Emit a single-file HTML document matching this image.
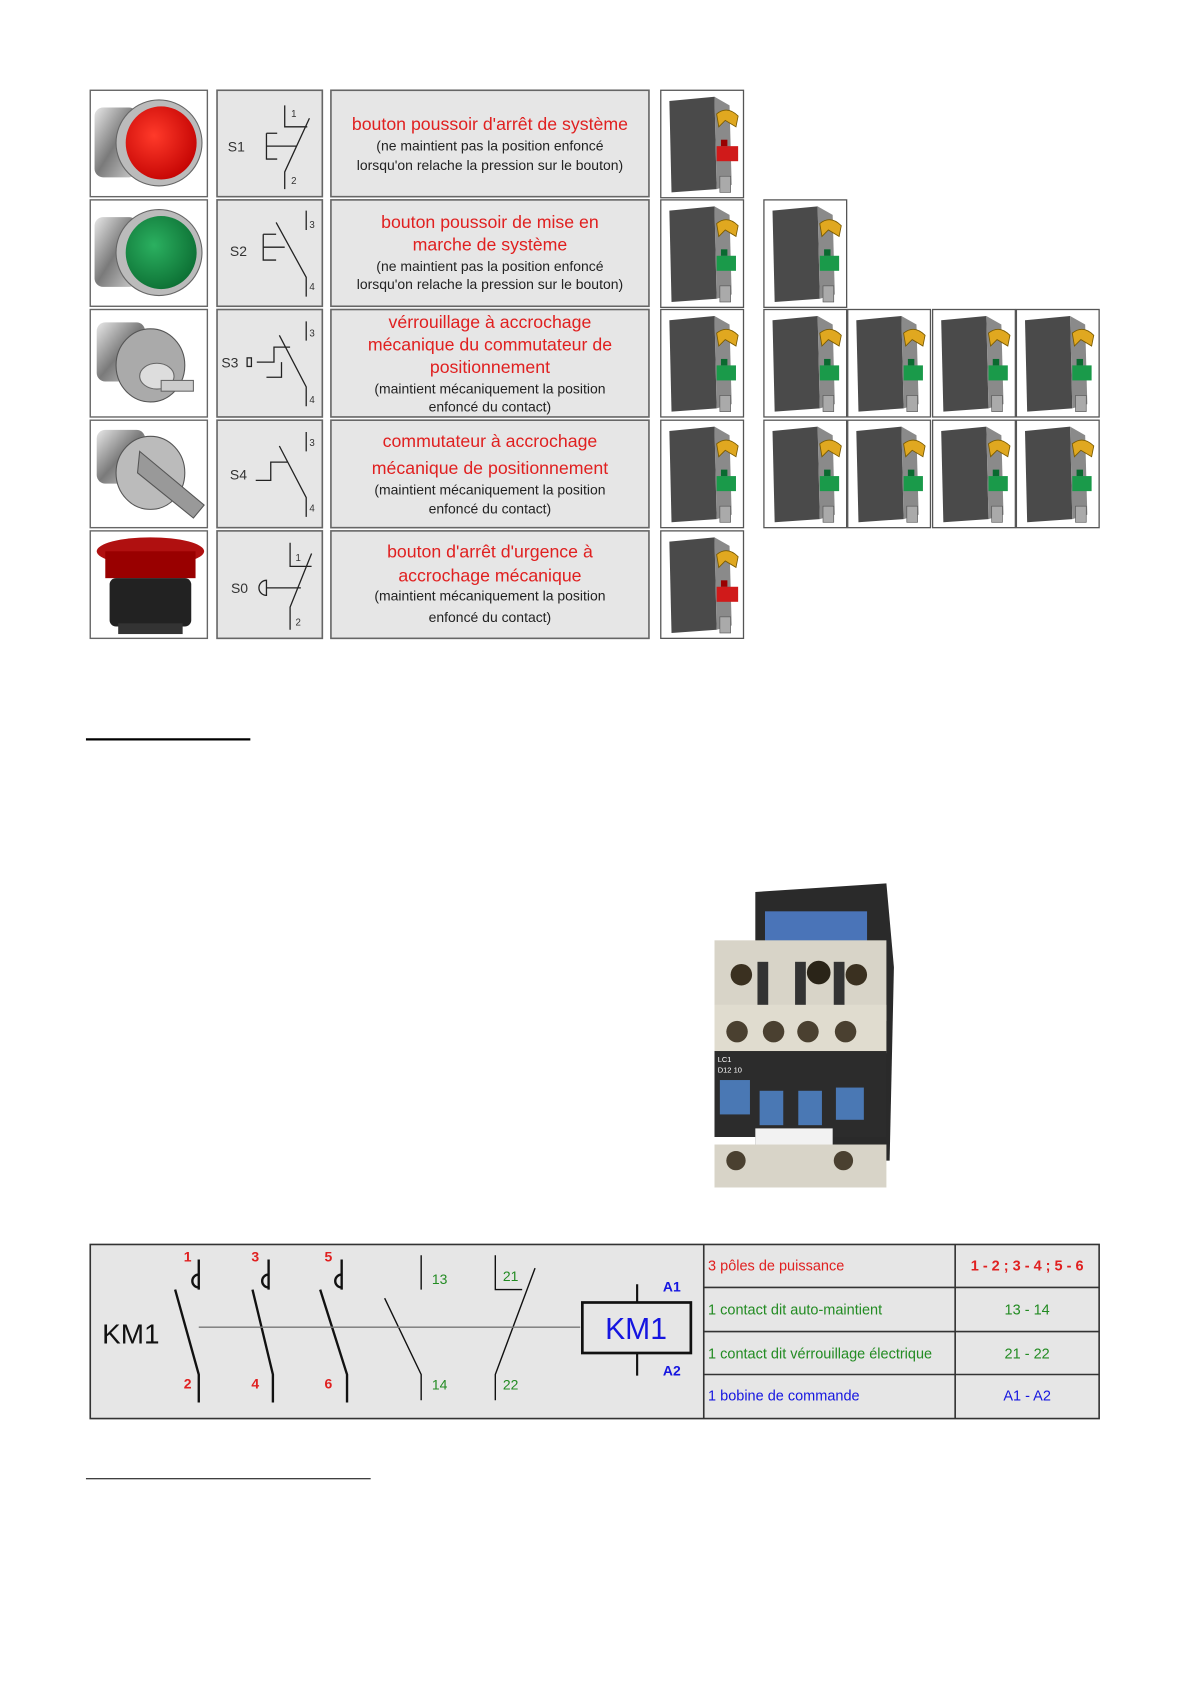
<!DOCTYPE html>
<html><head><meta charset="utf-8"><style>
html,body{margin:0;padding:0;background:#fff}
svg{display:block}
text{font-family:"Liberation Sans",Arial,sans-serif}
</style></head><body>
<svg width="1191" height="1684" viewBox="0 0 1108.5 1567" preserveAspectRatio="none" xmlns="http://www.w3.org/2000/svg">
<defs>
<linearGradient id="metal" x1="0" y1="0" x2="1" y2="1"><stop offset="0" stop-color="#e8e8e8"/><stop offset=".5" stop-color="#7a7a7a"/><stop offset="1" stop-color="#d0d0d0"/></linearGradient>
<radialGradient id="red" cx=".4" cy=".4" r=".7"><stop offset="0" stop-color="#ff3a2a"/><stop offset="1" stop-color="#c00000"/></radialGradient>
<radialGradient id="grn" cx=".4" cy=".4" r=".7"><stop offset="0" stop-color="#2bb060"/><stop offset="1" stop-color="#0a6a30"/></radialGradient>
<g id="mod">
<rect x="0" y="0" width="77" height="100" fill="#fff" stroke="#555" stroke-width="1.2"/>
<path d="M8 10 L50 6 L52 92 L10 95 Z" fill="#4a4a4a"/>
<path d="M50 6 L64 14 L66 88 L52 92 Z" fill="#8a8a8a"/>
<path d="M52 22 Q62 14 72 24 L70 34 L60 28 L54 34 Z" fill="#e0a820" stroke="#7a5a00" stroke-width=".8"/>
<rect x="55" y="80" width="10" height="15" fill="#aaa" stroke="#555" stroke-width=".6"/>
</g>
<g id="modg"><use href="#mod"/><rect x="52" y="52" width="18" height="14" fill="#1a9a4a"/><rect x="56" y="46" width="6" height="6" fill="#0a6a30"/></g>
<g id="modr"><use href="#mod"/><rect x="52" y="52" width="20" height="14" fill="#d01a1a"/><rect x="56" y="46" width="6" height="6" fill="#900"/></g>
</defs>

<g fill="#fff" stroke="#666" stroke-width="1.3">
<rect x="84" y="84" width="109" height="99"/><rect x="84" y="186" width="109" height="99"/><rect x="84" y="288" width="109" height="100"/><rect x="84" y="391" width="109" height="100"/><rect x="84" y="494" width="109" height="100"/>
</g>
<g fill="#e6e6e6" stroke="#666" stroke-width="1.5">
<rect x="202" y="84" width="98" height="99"/><rect x="202" y="186" width="98" height="99"/><rect x="202" y="288" width="98" height="100"/><rect x="202" y="391" width="98" height="100"/><rect x="202" y="494" width="98" height="100"/>
<rect x="308" y="84" width="296" height="99"/><rect x="308" y="186" width="296" height="99"/><rect x="308" y="288" width="296" height="100"/><rect x="308" y="391" width="296" height="100"/><rect x="308" y="494" width="296" height="100"/>
</g>

<g>
<rect x="88" y="100" width="40" height="65" rx="8" fill="url(#metal)"/><ellipse cx="148" cy="133" rx="40" ry="40" fill="#bbb" stroke="#666"/><ellipse cx="150" cy="133" rx="33" ry="34" fill="url(#red)"/>
<rect x="88" y="202" width="40" height="65" rx="8" fill="url(#metal)"/><ellipse cx="148" cy="235" rx="40" ry="40" fill="#bbb" stroke="#666"/><ellipse cx="150" cy="235" rx="33" ry="34" fill="url(#grn)"/>
<rect x="90" y="300" width="45" height="55" rx="8" fill="url(#metal)"/><ellipse cx="140" cy="340" rx="32" ry="34" fill="#aaa" stroke="#555"/><ellipse cx="146" cy="350" rx="16" ry="12" fill="#ddd" stroke="#666"/><rect x="150" y="354" width="30" height="10" fill="#ccc" stroke="#666"/>
<rect x="90" y="400" width="45" height="50" rx="8" fill="url(#metal)"/><ellipse cx="140" cy="440" rx="32" ry="34" fill="#bbb" stroke="#555"/><path d="M130 420 L190 470 L180 482 L128 440 Z" fill="#999" stroke="#555"/>
<ellipse cx="140" cy="513" rx="50" ry="13" fill="#b01010"/><rect x="98" y="513" width="84" height="25" fill="#900"/><rect x="102" y="538" width="76" height="45" rx="6" fill="#222"/><rect x="110" y="580" width="60" height="10" fill="#333"/>
</g>

<g stroke="#222" stroke-width="1.2" fill="none">
<path d="M265 98 V118 H286 M288 110 L265 160 V176 M248 124 H258 M248 124 V148 H258 M248 136 H276"/>
<path d="M285 196 V214 M257 207 L285 258 V276 M245 218 H257 M245 218 V242 H257 M245 230 H265"/>
<path d="M285 299 V317 M260 312 L285 360 V378 M239 337 H255 V323 H270 M248 351 H262 V337"/>
<rect x="230" y="333" width="4" height="8"/>
<path d="M285 402 V420 M260 415 L285 463 V481 M238 447 H252 V430 H268"/>
<path d="M270 505 V527 H290 M290 515 L270 565 V586 M248 547 H280 M248 540 A7 7 0 0 0 248 554 Z"/>
</g>
<g font-size="13" fill="#333">
<text x="212" y="141">S1</text><text x="214" y="238">S2</text><text x="206" y="342">S3</text><text x="214" y="446">S4</text><text x="215" y="552">S0</text>
</g>
<g font-size="9" fill="#333">
<text x="271" y="109">1</text><text x="271" y="171">2</text><text x="288" y="212">3</text><text x="288" y="270">4</text><text x="288" y="313">3</text><text x="288" y="375">4</text><text x="288" y="415">3</text><text x="288" y="476">4</text><text x="275" y="522">1</text><text x="275" y="582">2</text>
</g>

<g text-anchor="middle">
<g font-size="16.5" fill="#e02020">
<text x="456" y="121">bouton poussoir d'arrêt de système</text>
<text x="456" y="212">bouton poussoir de mise en</text><text x="456" y="233">marche de système</text>
<text x="456" y="305">vérrouillage à accrochage</text><text x="456" y="326">mécanique du commutateur de</text><text x="456" y="347">positionnement</text>
<text x="456" y="416">commutateur à accrochage</text><text x="456" y="441">mécanique de positionnement</text>
<text x="456" y="519">bouton d'arrêt d'urgence à</text><text x="456" y="541">accrochage mécanique</text>
</g>
<g font-size="13" fill="#222">
<text x="456" y="140">(ne maintient pas la position enfoncé</text><text x="456" y="158">lorsqu'on relache la pression sur le bouton)</text>
<text x="456" y="252">(ne maintient pas la position enfoncé</text><text x="456" y="269">lorsqu'on relache la pression sur le bouton)</text>
<text x="456" y="366">(maintient mécaniquement la position</text><text x="456" y="383">enfoncé du contact)</text>
<text x="456" y="460">(maintient mécaniquement la position</text><text x="456" y="478">enfoncé du contact)</text>
<text x="456" y="559">(maintient mécaniquement la position</text><text x="456" y="579">enfoncé du contact)</text>
</g>
</g>

<use href="#modr" x="615" y="84"/>
<use href="#modg" x="615" y="186"/>
<use href="#modg" x="615" y="288"/>
<use href="#modg" x="615" y="391"/>
<use href="#modr" x="615" y="494"/>
<use href="#modg" x="711" y="186"/>
<use href="#modg" x="711" y="288"/><use href="#modg" x="789" y="288"/><use href="#modg" x="868" y="288"/><use href="#modg" x="946" y="288"/>
<use href="#modg" x="711" y="391"/><use href="#modg" x="789" y="391"/><use href="#modg" x="868" y="391"/><use href="#modg" x="946" y="391"/>

<line x1="80" y1="688" x2="233" y2="688" stroke="#000" stroke-width="2"/>
<line x1="80" y1="1376" x2="345" y2="1376" stroke="#000" stroke-width="1"/>

<g>
<path d="M703 830 L825 822 L832 900 L828 1080 L703 1080 Z" fill="#2a2a2a"/>
<rect x="712" y="848" width="95" height="30" fill="#4a74b8"/>
<rect x="665" y="875" width="160" height="75" fill="#d8d4c8"/>
<circle cx="690" cy="907" r="10" fill="#3a3020"/><circle cx="762" cy="905" r="11" fill="#2a2418"/><circle cx="797" cy="907" r="10" fill="#3a3020"/>
<rect x="705" y="895" width="10" height="50" fill="#333"/><rect x="740" y="895" width="10" height="50" fill="#333"/><rect x="776" y="895" width="10" height="50" fill="#333"/>
<rect x="665" y="935" width="160" height="45" fill="#e0dccf"/>
<circle cx="686" cy="960" r="10" fill="#4a4030"/><circle cx="720" cy="960" r="10" fill="#4a4030"/><circle cx="752" cy="960" r="10" fill="#4a4030"/><circle cx="787" cy="960" r="10" fill="#4a4030"/>
<rect x="665" y="978" width="160" height="80" fill="#2c2c2c"/>
<rect x="670" y="1005" width="28" height="32" fill="#4a78b4"/><rect x="707" y="1015" width="22" height="32" fill="#4a78b4"/><rect x="743" y="1015" width="22" height="32" fill="#4a78b4"/><rect x="778" y="1012" width="26" height="30" fill="#4a78b4"/>
<rect x="703" y="1050" width="72" height="22" fill="#f2f2f2"/>
<rect x="665" y="1065" width="160" height="40" fill="#d8d4c8"/>
<circle cx="685" cy="1080" r="9" fill="#4a4030"/><circle cx="785" cy="1080" r="9" fill="#4a4030"/>
<text x="668" y="988" font-size="7" fill="#fff">LC1</text><text x="668" y="998" font-size="7" fill="#fff">D12 10</text>
</g>

<rect x="84" y="1158" width="939" height="162" fill="#e6e6e6" stroke="#333" stroke-width="1.5"/>
<g stroke="#333" stroke-width="1.5"><line x1="655" y1="1158" x2="655" y2="1320"/><line x1="889" y1="1158" x2="889" y2="1320"/>
<line x1="655" y1="1198" x2="1023" y2="1198"/><line x1="655" y1="1239" x2="1023" y2="1239"/><line x1="655" y1="1279" x2="1023" y2="1279"/></g>
<g stroke="#111" fill="none">
<g stroke-width="2.2">
<path d="M185 1172 V1200 M185 1186 A6 6 0 0 0 185 1198 M163 1200 L185 1279 V1305"/>
<path d="M250 1172 V1200 M250 1186 A6 6 0 0 0 250 1198 M235 1200 L254 1279 V1305"/>
<path d="M318 1172 V1200 M318 1186 A6 6 0 0 0 318 1198 M298 1200 L323 1279 V1305"/>
</g>
<g stroke-width="1.3">
<path d="M392 1168 V1200 M358 1208 L392 1279 V1303"/>
<path d="M461 1168 V1200 H486 M498 1180 L461 1279 V1303"/>
<line x1="185" y1="1235" x2="540" y2="1235" stroke="#777"/>
</g>
<path d="M593 1195 V1212 M593 1259 V1280" stroke-width="2"/>
<rect x="542" y="1212" width="101" height="47" stroke-width="2.5"/>
</g>
<text x="95" y="1250" font-size="26" fill="#111">KM1</text>
<text x="592" y="1246" font-size="28" fill="#1515e0" text-anchor="middle">KM1</text>
<g font-size="13" font-weight="bold">
<text x="171" y="1174" fill="#e02020">1</text><text x="234" y="1174" fill="#e02020">3</text><text x="302" y="1174" fill="#e02020">5</text>
<text x="171" y="1292" fill="#e02020">2</text><text x="234" y="1292" fill="#e02020">4</text><text x="302" y="1292" fill="#e02020">6</text>
<text x="617" y="1202" fill="#1515e0">A1</text><text x="617" y="1280" fill="#1515e0">A2</text>
</g>
<g font-size="13" fill="#228b22"><text x="402" y="1195">13</text><text x="468" y="1192">21</text><text x="402" y="1293">14</text><text x="468" y="1293">22</text></g>
<g font-size="13.5">
<text x="659" y="1182" fill="#e02020">3 pôles de puissance</text>
<text x="659" y="1223" fill="#228b22">1 contact dit auto-maintient</text>
<text x="659" y="1264" fill="#228b22">1 contact dit vérrouillage électrique</text>
<text x="659" y="1303" fill="#1515e0">1 bobine de commande</text>
<g text-anchor="middle">
<text x="956" y="1182" fill="#e02020" font-weight="bold">1 - 2 ; 3 - 4 ; 5 - 6</text>
<text x="956" y="1223" fill="#228b22">13 - 14</text>
<text x="956" y="1264" fill="#228b22">21 - 22</text>
<text x="956" y="1303" fill="#1515e0">A1 - A2</text>
</g>
</g>
</svg>
</body></html>
